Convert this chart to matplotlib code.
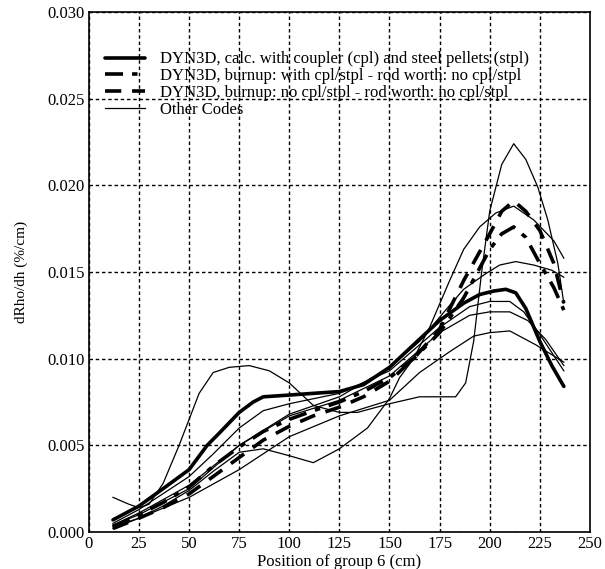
import numpy as np
import matplotlib
matplotlib.use('Agg')
import matplotlib.pyplot as plt
from matplotlib.ticker import FormatStrFormatter

plt.rcParams['font.family'] = ['Liberation Serif', 'DejaVu Serif']

# DYN3D, calc. with coupler and steel pellets
x_cpl = [12, 25, 37, 50, 59, 65, 75, 82, 87, 100, 112, 125, 137, 150, 162, 175, 187, 195, 202, 208, 213, 218, 225, 231, 237]
y_cpl = [0.0007, 0.0015, 0.0025, 0.0036, 0.0050, 0.0057, 0.0069, 0.0075, 0.0078, 0.0079, 0.0080, 0.0081, 0.0085, 0.0095,
         0.0108, 0.0122, 0.0132, 0.0137, 0.0139, 0.0140, 0.0138, 0.0129, 0.0110, 0.0096, 0.0084]

# DYN3D, burnup with cpl/stpl
x_bw = [12, 25, 37, 50, 62, 75, 87, 100, 112, 125, 137, 150, 162, 175, 187, 200, 206, 212, 218, 225, 232, 237]
y_bw = [0.0003, 0.0010, 0.0017, 0.0026, 0.0038, 0.0049, 0.0058, 0.0065, 0.0070, 0.0075, 0.0081, 0.0089, 0.0100,
        0.0115, 0.0135, 0.0163, 0.0172, 0.0176, 0.0170, 0.0155, 0.0141, 0.0128]

# DYN3D, burnup no cpl/stpl
x_bn = [12, 25, 37, 50, 62, 75, 87, 100, 112, 125, 137, 150, 162, 175, 187, 200, 206, 212, 218, 225, 232, 237]
y_bn = [0.0002, 0.0008, 0.0014, 0.0022, 0.0032, 0.0043, 0.0053, 0.0061, 0.0067, 0.0072, 0.0078, 0.0087, 0.0100,
        0.0117, 0.0145, 0.0172, 0.0185, 0.0191, 0.0185, 0.0174, 0.0155, 0.0132]

# other codes
x_oa = [12, 20, 25, 30, 37, 45, 50, 55, 62, 70, 80, 90, 100, 112, 125, 134, 150, 165, 183, 188, 192, 196, 200, 206,
        212, 218, 224, 229, 234, 237]
y_oa = [0.0020, 0.0016, 0.0014, 0.0016, 0.0028, 0.0050, 0.0065, 0.0080, 0.0092, 0.0095, 0.0096, 0.0093, 0.0086,
        0.0073, 0.0069, 0.0069, 0.0074, 0.0078, 0.0078, 0.0086, 0.0110, 0.0150, 0.0185, 0.0212, 0.0224, 0.0215,
        0.0199, 0.0180, 0.0155, 0.0132]

x_ob = [12, 25, 37, 50, 62, 75, 87, 100, 112, 125, 139, 150, 155, 162, 170, 180, 187, 195, 203, 212, 222, 232, 237]
y_ob = [0.0002, 0.0008, 0.0015, 0.0024, 0.0035, 0.0046, 0.0048, 0.0044, 0.0040, 0.0048, 0.0060, 0.0077, 0.0089,
        0.0100, 0.0118, 0.0145, 0.0163, 0.0176, 0.0184, 0.0188, 0.0180, 0.0168, 0.0158]

x_oc = [12, 25, 50, 75, 100, 125, 150, 165, 180, 192, 200, 210, 223, 237]
y_oc = [0.0003, 0.0008, 0.0020, 0.0036, 0.0055, 0.0067, 0.0076, 0.0092, 0.0104, 0.0113, 0.0115, 0.0116, 0.0108, 0.0098]

x_od = [12, 25, 50, 75, 100, 125, 150, 165, 178, 187, 198, 205, 213, 222, 231, 237]
y_od = [0.0004, 0.0011, 0.0027, 0.0050, 0.0068, 0.0078, 0.0095, 0.0110, 0.0128, 0.0140, 0.0149, 0.0154, 0.0156,
        0.0154, 0.0151, 0.0147]

x_oe = [12, 25, 50, 62, 75, 87, 100, 125, 150, 175, 190, 200, 210, 217, 225, 237]
y_oe = [0.0005, 0.0013, 0.0032, 0.0045, 0.0060, 0.0070, 0.0074, 0.0080, 0.0093, 0.0118, 0.0130, 0.0133, 0.0133,
        0.0127, 0.0114, 0.0093]

x_of = [12, 25, 50, 75, 100, 125, 150, 175, 190, 200, 210, 219, 228, 237]
y_of = [0.0004, 0.0010, 0.0025, 0.0050, 0.0067, 0.0076, 0.0090, 0.0115, 0.0125, 0.0127, 0.0127, 0.0122, 0.0111, 0.0096]

others = [(x_oa, y_oa), (x_ob, y_ob), (x_oc, y_oc), (x_od, y_od), (x_oe, y_oe), (x_of, y_of)]

fig = plt.figure(figsize=(6.05, 5.69), dpi=100)
ax = fig.add_axes([0.147, 0.065, 0.828, 0.914])

ax.plot(x_cpl, y_cpl, color='black', lw=2.6, solid_capstyle='round',
        label='DYN3D, calc. with coupler (cpl) and steel pellets (stpl)')
ax.plot(x_bw, y_bw, color='black', lw=2.6, linestyle=(0, (5, 2.5, 1.5, 2.5)),
        label='DYN3D, burnup: with cpl/stpl - rod worth: no cpl/stpl')
ax.plot(x_bn, y_bn, color='black', lw=2.6, linestyle=(0, (4.5, 3)),
        label='DYN3D, burnup: no cpl/stpl - rod worth: no cpl/stpl')
for i, (xo, yo) in enumerate(others):
    ax.plot(xo, yo, color='black', lw=0.9, label='Other Codes' if i == 0 else None)

ax.set_xlim(0, 250)
ax.set_ylim(0, 0.030)
ax.set_xticks(np.arange(0, 251, 25))
ax.set_yticks(np.arange(0, 0.0301, 0.005))
ax.yaxis.set_major_formatter(FormatStrFormatter('%.3f'))
ax.tick_params(length=0, labelsize=12, pad=3)
ax.grid(True, color='black', linestyle=(0, (2.5, 2)), lw=1.0)
for s in ax.spines.values():
    s.set_linewidth(1.2)

ax.set_xlabel('Position of group 6 (cm)', fontsize=12, labelpad=1)
ax.set_ylabel('dRho/dh (%/cm)', fontsize=11, labelpad=14)

leg = ax.legend(loc='upper left', bbox_to_anchor=(0.015, 0.94), frameon=False, fontsize=12,
                handlelength=2.4, labelspacing=0.05, handletextpad=0.9, borderpad=0)

fig.savefig('out.png', dpi=100)
